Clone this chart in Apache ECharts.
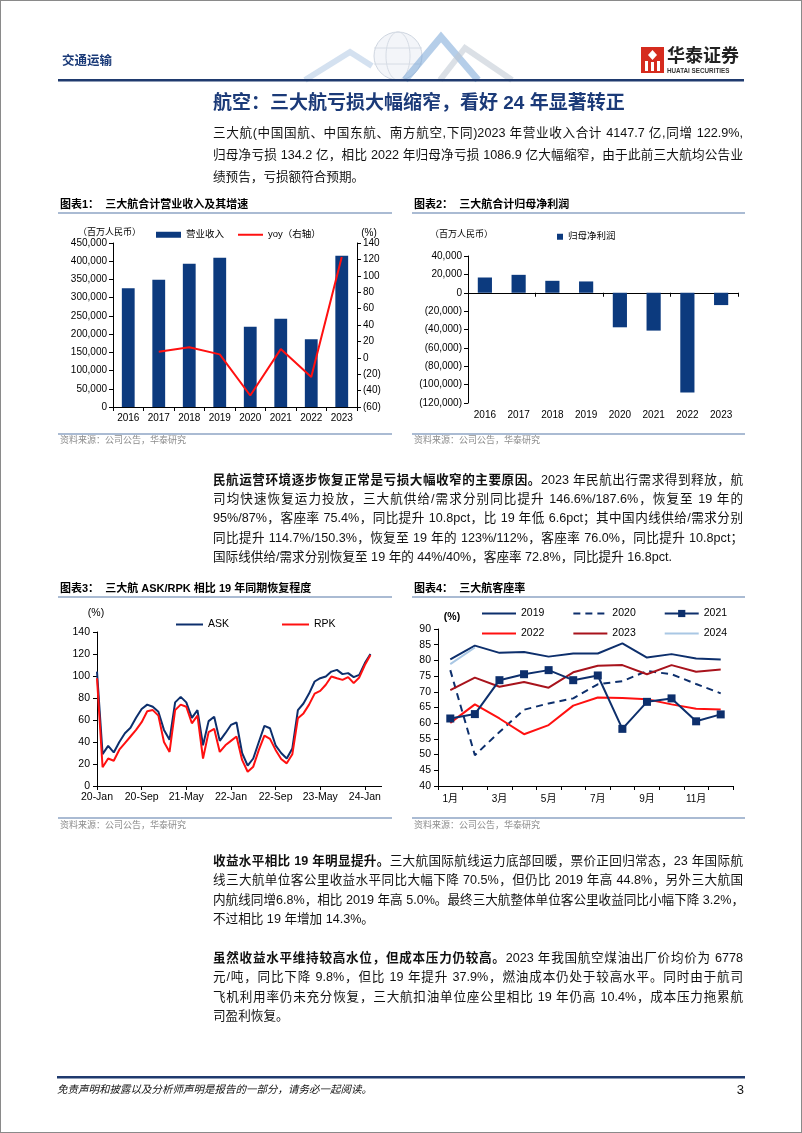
<!DOCTYPE html>
<html><head><meta charset="utf-8">
<script src="https://cdn.jsdelivr.net/npm/echarts@6/dist/echarts.min.js"></script>
<style>
html,body{margin:0;padding:0;background:#fff;}
#page{position:relative;width:802px;height:1133px;overflow:hidden;background:#fff;}
#chart{position:absolute;left:0;top:0;width:802px;height:1133px;}
.ln{position:absolute;left:213px;width:530px;height:20px;line-height:20px;font-size:12.6px;color:#111;font-family:"Liberation Sans","Noto Sans CJK SC",sans-serif;white-space:nowrap;}
.j{text-align:justify;text-align-last:justify;}
.ln b{font-weight:700;}
#ttl{position:absolute;left:213px;top:90px;height:26px;line-height:26px;font-size:19px;font-weight:700;color:#1b3a78;font-family:"Liberation Sans","Noto Sans CJK SC",sans-serif;white-space:nowrap;}
#frame{position:absolute;left:0;top:0;width:800px;height:1131px;border:1px solid #8a8a8a;pointer-events:none;}
</style>
</head><body>
<div id="page">
<div id="chart"></div>
<div id="ttl">航空：三大航亏损大幅缩窄，看好 24 年显著转正</div>

<div class="ln j" style="top:123px">三大航(中国国航、中国东航、南方航空,下同)2023 年营业收入合计 4147.7 亿,同增 122.9%,</div>
<div class="ln j" style="top:145px">归母净亏损 134.2 亿，相比 2022 年归母净亏损 1086.9 亿大幅缩窄，由于此前三大航均公告业</div>
<div class="ln" style="top:167px">绩预告，亏损额符合预期。</div>

<div class="ln j" style="top:470px"><b>民航运营环境逐步恢复正常是亏损大幅收窄的主要原因。</b>2023 年民航出行需求得到释放，航</div>
<div class="ln j" style="top:489px">司均快速恢复运力投放，三大航供给/需求分别同比提升 146.6%/187.6%，恢复至 19 年的</div>
<div class="ln j" style="top:508px">95%/87%，客座率 75.4%，同比提升 10.8pct，比 19 年低 6.6pct；其中国内线供给/需求分别</div>
<div class="ln j" style="top:528px">同比提升 114.7%/150.3%，恢复至 19 年的 123%/112%，客座率 76.0%，同比提升 10.8pct；</div>
<div class="ln" style="top:547px">国际线供给/需求分别恢复至 19 年的 44%/40%，客座率 72.8%，同比提升 16.8pct.</div>

<div class="ln j" style="top:851px"><b>收益水平相比 19 年明显提升。</b>三大航国际航线运力底部回暖，票价正回归常态，23 年国际航</div>
<div class="ln j" style="top:870px">线三大航单位客公里收益水平同比大幅下降 70.5%，但仍比 2019 年高 44.8%，另外三大航国</div>
<div class="ln j" style="top:890px">内航线同增6.8%，相比 2019 年高 5.0%。最终三大航整体单位客公里收益同比小幅下降 3.2%，</div>
<div class="ln" style="top:909px">不过相比 19 年增加 14.3%。</div>

<div class="ln j" style="top:948px"><b>虽然收益水平维持较高水位，但成本压力仍较高。</b>2023 年我国航空煤油出厂价均价为 6778</div>
<div class="ln j" style="top:967px">元/吨，同比下降 9.8%，但比 19 年提升 37.9%，燃油成本仍处于较高水平。同时由于航司</div>
<div class="ln j" style="top:987px">飞机利用率仍未充分恢复，三大航扣油单位座公里相比 19 年仍高 10.4%，成本压力拖累航</div>
<div class="ln" style="top:1006px">司盈利恢复。</div>
<div id="frame"></div>
</div>
<script>
// ---------- data ----------
const years = ['2016','2017','2018','2019','2020','2021','2022','2023'];
const revenue = [325600, 349400, 393300, 409800, 220400, 242400, 185700, 414770];
const revenueYoy = [null, 7.5, 12.8, 4.2, -46.0, 10.6, -23.5, 122.9];
const netProfit = [16600, 19500, 13000, 12300, -37600, -41200, -108690, -13420];

const monthNames = ['Jan','Feb','Mar','Apr','May','Jun','Jul','Aug','Sep','Oct','Nov','Dec'];
const monthLabels = [];
for (let y = 20; y <= 24; y++) { for (const m of monthNames) { if (monthLabels.length < 52) monthLabels.push(y + '-' + m); } }
const ask = [104, 29, 36.5, 30.5, 40, 48, 53, 62, 70, 74, 72, 67.5, 51, 42, 76, 81, 76, 62, 69, 37,
             59, 63, 41, 48, 55.5, 57.7, 30, 18.5, 25, 40, 54.6, 52.5, 37, 30, 25, 34, 69, 75, 84, 95,
             98, 99.6, 104, 105.6, 101.7, 102.6, 99, 101, 111.7, 120];
const rpk = [98, 17, 25, 23, 33, 39, 45, 51, 58, 68, 69, 64, 40, 31, 69, 74, 72, 57, 64, 25,
             49, 52, 31, 37, 41, 45, 23.7, 13, 17.6, 32.8, 45.8, 42.8, 32.8, 24.6, 20.6, 28.8, 61.6, 66, 74, 84,
             86.5, 92, 99.6, 98, 96.5, 99, 93.5, 98.7, 110, 119];

const monthsCN = ['1月','2月','3月','4月','5月','6月','7月','8月','9月','10月','11月','12月'];
const lf2019 = [80.3, 84.7, 82.4, 82.7, 81.2, 82.2, 82.2, 85.4, 80.9, 82.0, 80.6, 80.3];
const lf2020 = [76.9, 49.8, 57.2, 64.3, 66.3, 67.9, 72.4, 73.4, 76.6, 75.6, 72.5, 69.5];
const lf2021 = [61.5, 62.9, 73.7, 75.6, 76.9, 73.7, 75.2, 58.2, 66.8, 67.9, 60.6, 62.8];
const lf2022 = [60.1, 66.0, 61.5, 56.5, 59.4, 65.6, 68.2, 68.0, 67.6, 66.0, 64.6, 64.4];
const lf2023 = [70.5, 74.5, 71.6, 73.1, 71.3, 76.2, 78.3, 78.5, 75.6, 78.5, 76.4, 77.1];
const lf2024 = [78.8, 84.1];

// ---------- styles ----------
const F = '"Liberation Sans", Arial, sans-serif';
const FC = '"Liberation Sans", "Noto Sans CJK SC", sans-serif';
const NAVY = '#0c3a7e';
const LNAVY = '#0d2f6c';
const RED = '#ff1010';
const blackLine = { show: true, lineStyle: { color: '#000', width: 1 } };
const tick = { show: true, length: 4, lineStyle: { color: '#000', width: 1 } };
const thou = v => v.toLocaleString('en-US');
const paren = v => v < 0 ? '(' + thou(-v) + ')' : thou(v);
const noSym = name => ({ name: name, itemStyle: { opacity: 0 } });

const chart = echarts.init(document.getElementById('chart'), null, { renderer: 'canvas' });

function txt(x, y, text, font, fill, align) {
  return { type: 'text', x: x, y: y, silent: true, style: { text: text, font: font, fill: fill || '#000',
    align: align || 'left', verticalAlign: 'middle', textAlign: align || 'left', textVerticalAlign: 'middle' } };
}
function hline(x1, x2, y, color, w) {
  return { type: 'line', silent: true, shape: { x1: x1, y1: y, x2: x2, y2: y }, style: { stroke: color, lineWidth: w } };
}
const titleFont = 'bold 11px ' + FC;
const srcFont = '9px ' + FC;
const unitFont = '9px ' + FC;
const sepColor = '#8ea4c4';

const graphics = [
  // header decoration
  { type: 'circle', silent: true, shape: { cx: 398, cy: 56, r: 24 }, style: { fill: 'rgba(235,239,245,0.6)', stroke: '#cfd6e0', lineWidth: 1 } },
  { type: 'ellipse', silent: true, shape: { cx: 398, cy: 56, rx: 12, ry: 24 }, style: { fill: 'none', stroke: '#d6dce5', lineWidth: 1 } },
  hline(374, 422, 48, '#d6dce5', 1), hline(374, 422, 64, '#d6dce5', 1),
  { type: 'polyline', silent: true, shape: { points: [[305, 80], [350, 52], [372, 66]] }, style: { stroke: 'rgba(170,195,225,0.5)', lineWidth: 6, fill: 'none' } },
  { type: 'polyline', silent: true, shape: { points: [[405, 80], [441, 37], [478, 80]] }, style: { stroke: 'rgba(120,165,215,0.55)', lineWidth: 7, fill: 'none' } },
  { type: 'polyline', silent: true, shape: { points: [[440, 80], [465, 48], [512, 80]] }, style: { stroke: 'rgba(190,198,210,0.55)', lineWidth: 6, fill: 'none' } },
  txt(62, 62, '交通运输', 'bold 12.5px ' + FC, '#1a3a78'),
  // logo
  { type: 'rect', silent: true, shape: { x: 641, y: 47, width: 23, height: 26 }, style: { fill: '#d52b1e' } },
  { type: 'polygon', silent: true, shape: { points: [[652.5, 50], [657, 55], [652.5, 60], [648, 55]] }, style: { fill: '#fff' } },
  { type: 'rect', silent: true, shape: { x: 645, y: 61, width: 3, height: 10 }, style: { fill: '#fff' } },
  { type: 'rect', silent: true, shape: { x: 651, y: 62, width: 3, height: 9 }, style: { fill: '#fff' } },
  { type: 'rect', silent: true, shape: { x: 657, y: 61, width: 3, height: 10 }, style: { fill: '#fff' } },
  txt(667, 57, '华泰证券', 'bold 18px ' + FC, '#222'),
  txt(667, 71, 'HUATAI SECURITIES', 'bold 6.3px ' + F, '#333'),
  { type: 'rect', silent: true, shape: { x: 58, y: 79, width: 686, height: 2.5 }, style: { fill: '#1f3a6e' } },

  // chart 1 frame
  txt(60, 205, '图表1：  三大航合计营业收入及其增速', titleFont),
  hline(58, 392, 213, sepColor, 1.5),
  txt(78, 233, '（百万人民币）', unitFont),
  txt(369, 233, '(%)', '10px ' + F, '#000', 'center'),
  hline(58, 392, 434, sepColor, 1.5),
  txt(60, 441, '资料来源：公司公告，华泰研究', srcFont, '#8c8c8c'),

  // chart 2 frame
  txt(414, 205, '图表2：  三大航合计归母净利润', titleFont),
  hline(412, 745, 213, sepColor, 1.5),
  txt(430, 235, '（百万人民币）', unitFont),
  hline(412, 745, 434, sepColor, 1.5),
  txt(414, 441, '资料来源：公司公告，华泰研究', srcFont, '#8c8c8c'),

  // chart 3 frame
  txt(60, 589, '图表3：  三大航 ASK/RPK 相比 19 年同期恢复程度', titleFont),
  hline(58, 392, 597, sepColor, 1.5),
  txt(96, 613, '(%)', '10.5px ' + F, '#000', 'center'),
  hline(58, 392, 818, sepColor, 1.5),
  txt(60, 826, '资料来源：公司公告，华泰研究', srcFont, '#8c8c8c'),

  // chart 4 frame
  txt(414, 589, '图表4：  三大航客座率', titleFont),
  hline(412, 745, 597, sepColor, 1.5),
  txt(452, 617, '(%)', 'bold 10.5px ' + F, '#000', 'center'),
  hline(412, 745, 818, sepColor, 1.5),
  txt(414, 826, '资料来源：公司公告，华泰研究', srcFont, '#8c8c8c'),

  // footer
  { type: 'rect', silent: true, shape: { x: 57, y: 1076, width: 688, height: 2.5 }, style: { fill: '#1f3a6e' } },
  txt(57, 1090, '免责声明和披露以及分析师声明是报告的一部分，请务必一起阅读。', 'italic 10.5px ' + FC, '#111'),
  txt(744, 1090, '3', '13px ' + F, '#111', 'right')
];

const option = {
  animation: false,
  backgroundColor: '#fff',
  grid: [
    { left: 113, top: 243, width: 244, height: 164 },
    { left: 468, top: 256, width: 270, height: 147 },
    { left: 97, top: 632, width: 284.6, height: 154 },
    { left: 438, top: 629, width: 295, height: 157 }
  ],
  xAxis: [
    { gridIndex: 0, type: 'category', data: years, axisLine: blackLine, axisTick: tick,
      axisLabel: { color: '#000', fontSize: 10, fontFamily: F, margin: 6 } },
    { gridIndex: 1, type: 'category', data: years, position: 'bottom',
      axisLine: { show: true, onZero: true, lineStyle: { color: '#000', width: 1 } }, axisTick: tick,
      axisLabel: { show: false } },
    { gridIndex: 1, type: 'category', data: years, position: 'bottom',
      axisLine: { show: false, onZero: false }, axisTick: { show: false },
      axisLabel: { color: '#000', fontSize: 10, fontFamily: F, margin: 7 } },
    { gridIndex: 2, type: 'category', data: monthLabels, boundaryGap: false, axisLine: blackLine,
      axisTick: { show: true, length: 4, interval: 7, lineStyle: { color: '#000' } },
      axisLabel: { interval: 7, color: '#000', fontSize: 10.5, fontFamily: F, margin: 6 } },
    { gridIndex: 3, type: 'category', data: monthsCN, axisLine: blackLine,
      axisTick: { show: true, length: 4, interval: 0, lineStyle: { color: '#000' } },
      axisLabel: { interval: 1, color: '#000', fontSize: 10, fontFamily: FC, margin: 8 } }
  ],
  yAxis: [
    { gridIndex: 0, type: 'value', min: 0, max: 450000, interval: 50000, axisLine: blackLine, axisTick: tick,
      splitLine: { show: false }, axisLabel: { formatter: thou, color: '#000', fontSize: 10, fontFamily: F, margin: 6 } },
    { gridIndex: 0, type: 'value', position: 'right', min: -60, max: 140, interval: 20, axisLine: blackLine, axisTick: tick,
      splitLine: { show: false }, axisLabel: { formatter: paren, color: '#000', fontSize: 10, fontFamily: F, margin: 6 } },
    { gridIndex: 1, type: 'value', min: -120000, max: 40000, interval: 20000, axisLine: blackLine, axisTick: tick,
      splitLine: { show: false }, axisLabel: { formatter: paren, color: '#000', fontSize: 10, fontFamily: F, margin: 6 } },
    { gridIndex: 2, type: 'value', min: 0, max: 140, interval: 20, axisLine: blackLine, axisTick: tick,
      splitLine: { show: false }, axisLabel: { color: '#000', fontSize: 10.5, fontFamily: F, margin: 7 } },
    { gridIndex: 3, type: 'value', min: 40, max: 90, interval: 5, axisLine: blackLine, axisTick: tick,
      splitLine: { show: false }, axisLabel: { color: '#000', fontSize: 10.5, fontFamily: F, margin: 7 } }
  ],
  legend: [
    { left: 156, top: 230, padding: 0, itemWidth: 25, itemHeight: 6, itemGap: 13,
      textStyle: { fontSize: 9.5, fontFamily: FC, color: '#000' },
      data: [{ name: '营业收入', icon: 'rect' }, noSym('yoy（右轴）')] },
    { left: 557, top: 232, padding: 0, itemWidth: 6, itemHeight: 6,
      textStyle: { fontSize: 9.5, fontFamily: FC, color: '#000' },
      data: [{ name: '归母净利润', icon: 'rect' }] },
    { left: 175, top: 619, padding: 0, itemWidth: 27, itemHeight: 8, itemGap: 52,
      textStyle: { fontSize: 10.5, fontFamily: F, color: '#000' }, data: [noSym('ASK'), noSym('RPK')] },
    { left: 481, top: 608, padding: 0, itemWidth: 34, itemHeight: 9, itemGap: 28,
      textStyle: { fontSize: 10.5, fontFamily: F, color: '#000' }, data: [noSym('2019'), noSym('2020'), '2021'] },
    { left: 481, top: 628, padding: 0, itemWidth: 34, itemHeight: 9, itemGap: 28,
      textStyle: { fontSize: 10.5, fontFamily: F, color: '#000' }, data: [noSym('2022'), noSym('2023'), noSym('2024')] }
  ],
  graphic: graphics,
  series: [
    { name: '营业收入', type: 'bar', xAxisIndex: 0, yAxisIndex: 0, data: revenue, barWidth: '42%', itemStyle: { color: NAVY } },
    { name: 'yoy（右轴）', type: 'line', xAxisIndex: 0, yAxisIndex: 1, data: revenueYoy, symbol: 'none',
      lineStyle: { color: RED, width: 2 }, itemStyle: { color: RED } },
    { name: '归母净利润', type: 'bar', xAxisIndex: 1, yAxisIndex: 2, data: netProfit, barWidth: '42%', itemStyle: { color: NAVY } },
    { name: 'ASK', type: 'line', xAxisIndex: 3, yAxisIndex: 3, data: ask, symbol: 'none',
      lineStyle: { color: LNAVY, width: 2 }, itemStyle: { color: LNAVY } },
    { name: 'RPK', type: 'line', xAxisIndex: 3, yAxisIndex: 3, data: rpk, symbol: 'none',
      lineStyle: { color: RED, width: 2 }, itemStyle: { color: RED } },
    { name: '2019', type: 'line', xAxisIndex: 4, yAxisIndex: 4, data: lf2019, symbol: 'none',
      lineStyle: { color: LNAVY, width: 2 }, itemStyle: { color: LNAVY } },
    { name: '2020', type: 'line', xAxisIndex: 4, yAxisIndex: 4, data: lf2020, symbol: 'none',
      lineStyle: { color: LNAVY, width: 2, type: [7, 5] }, itemStyle: { color: LNAVY } },
    { name: '2022', type: 'line', xAxisIndex: 4, yAxisIndex: 4, data: lf2022, symbol: 'none',
      lineStyle: { color: RED, width: 2 }, itemStyle: { color: RED } },
    { name: '2023', type: 'line', xAxisIndex: 4, yAxisIndex: 4, data: lf2023, symbol: 'none',
      lineStyle: { color: '#a8131c', width: 2 }, itemStyle: { color: '#a8131c' } },
    { name: '2024', type: 'line', xAxisIndex: 4, yAxisIndex: 4, data: lf2024, symbol: 'none',
      lineStyle: { color: '#a9c7e4', width: 2 }, itemStyle: { color: '#a9c7e4' } },
    { name: '2021', type: 'line', xAxisIndex: 4, yAxisIndex: 4, data: lf2021, symbol: 'rect', symbolSize: 8, showSymbol: true,
      lineStyle: { color: LNAVY, width: 2 }, itemStyle: { color: LNAVY } }
  ]
};
chart.setOption(option);
</script>
</body></html>
